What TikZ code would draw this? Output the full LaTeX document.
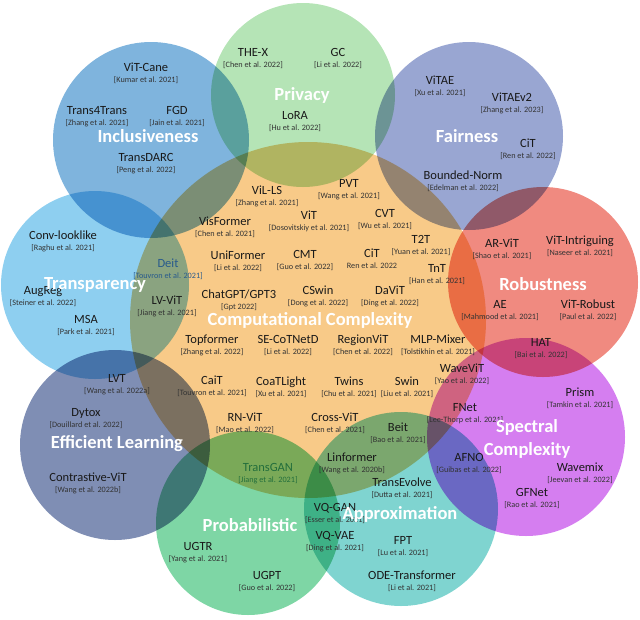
\documentclass[tikz,border=0pt]{standalone}
\usepackage{fontspec}
\setmainfont{Carlito}
\definecolor{cIncl}{RGB}{127,180,221}
\definecolor{cPriv}{RGB}{181,228,182}
\definecolor{cFair}{RGB}{153,166,210}
\definecolor{cTrans}{RGB}{142,207,240}
\definecolor{cComp}{RGB}{248,202,136}
\definecolor{cRob}{RGB}{240,138,128}
\definecolor{cSpec}{RGB}{213,126,240}
\definecolor{cEff}{RGB}{127,142,180}
\definecolor{cProb}{RGB}{126,214,165}
\definecolor{cApprox}{RGB}{127,212,208}
\definecolor{cDeit}{RGB}{40,90,140}
\definecolor{cGan}{RGB}{35,110,60}
\tikzset{
  nm/.style={font=\fontsize{12.5}{14}\selectfont, text=black!90, inner sep=0pt, anchor=base},
  ct/.style={font=\fontsize{8.2}{9}\selectfont, text=black!80, inner sep=0pt, anchor=base},
  cat/.style={font=\bfseries\fontsize{18.5}{20}\selectfont, text=white, inner sep=0pt, align=center},
}
\newcommand\entry[5]{%
  \node[nm] (#1) at (#2,#3+4.3) {#4};
  \node[ct] (#1c) at (#2,#3+15.3) {#5};
}
\begin{document}
\begin{tikzpicture}[x=1pt,y=-1pt]
\useasboundingbox (0,0) rectangle (640,619);
\begin{scope}[blend mode=multiply]
  \fill[cComp]   (308,320) circle[radius=178];
  \fill[cIncl]   (151,140) circle[radius=98];
  \fill[cPriv]   (303,95)  circle[radius=92];
  \fill[cFair]   (469,136) circle[radius=94];
  \fill[cTrans]  (95,285)  circle[radius=94];
  \fill[cRob]    (543,282) circle[radius=95];
  \fill[cSpec]   (526,437) circle[radius=99];
  \fill[cEff]    (115,445) circle[radius=95];
  \fill[cProb]   (248,523) circle[radius=92];
  \fill[cApprox] (401,509) circle[radius=97];
\end{scope}
% Inclusiveness
\entry{vitcane}{146}{67}{ViT-Cane}{[Kumar et al. 2021]}
\entry{t4t}{97}{110}{Trans4Trans}{[Zhang et al. 2021]}
\entry{fgd}{177}{110}{FGD}{[Jain et al. 2021]}
\entry{transdarc}{146}{157}{TransDARC}{[Peng et al. 2022]}
% Privacy
\entry{thex}{253}{52}{THE-X}{[Chen et al. 2022]}
\entry{gc}{338}{52}{GC}{[Li et al. 2022]}
\entry{lora}{295}{115}{LoRA}{[Hu et al. 2022]}
% Fairness
\entry{vitae}{440}{80}{ViTAE}{[Xu et al. 2021]}
\entry{vitaev2}{512}{97}{ViTAEv2}{[Zhang et al. 2023]}
\entry{citf}{528}{143}{CiT}{[Ren et al. 2022]}
\entry{bnorm}{463}{175}{Bounded-Norm}{[Edelman et al. 2022]}
% Computational complexity
\entry{vills}{267}{190}{ViL-LS}{[Zhang et al. 2021]}
\entry{pvt}{349}{183}{PVT}{[Wang et al. 2021]}
\entry{visformer}{225}{221}{VisFormer}{[Chen et al. 2021]}
\entry{vit}{309}{215}{ViT}{[Dosovitskiy et al. 2021]}
\entry{cvt}{385}{213}{CVT}{[Wu et al. 2021]}
\entry{uniformer}{238}{255}{UniFormer}{[Li et al. 2022]}
\entry{cmt}{305}{254}{CMT}{[Guo et al. 2022]}
\entry{citc}{372}{253}{CiT}{Ren et al. 2022}
\entry{t2t}{421}{239}{T2T}{[Yuan et al. 2021]}
\entry{tnt}{437}{268}{TnT}{[Han et al. 2021]}
\entry{chatgpt}{239}{294}{ChatGPT/GPT3}{[Gpt 2022]}
\entry{cswin}{318}{290}{CSwin}{[Dong et al. 2022]}
\entry{davit}{390}{290}{DaViT}{[Ding et al. 2022]}
\entry{topformer}{212}{339}{Topformer}{[Zhang et al. 2022]}
\entry{secot}{288}{339}{SE-CoTNetD}{[Li et al. 2022]}
\entry{regionvit}{363}{339}{RegionViT}{[Chen et al. 2022]}
\entry{mlpmixer}{438}{339}{MLP-Mixer}{[Tolstikhin et al. 2021]}
\entry{cait}{212}{380}{CaiT}{[Touvron et al. 2021]}
\entry{coat}{281}{381}{CoaTLight}{[Xu et al. 2021]}
\entry{twins}{349}{381}{Twins}{[Chu et al. 2021]}
\entry{swin}{407}{381}{Swin}{[Liu et al. 2021]}
\entry{wavevit}{462}{368}{WaveViT}{[Yao et al. 2022]}
\entry{rnvit}{245}{417}{RN-ViT}{[Mao et al. 2022]}
\entry{crossvit}{335}{417}{Cross-ViT}{[Chen et al. 2021]}
\entry{beit}{398}{427}{Beit}{[Bao et al. 2021]}
\entry{linformer}{352}{457}{Linformer}{[Wang et al. 2020b]}
% Transparency
\entry{convlook}{63}{235}{Conv-looklike}{[Raghu et al. 2021]}
\node[nm,text=cDeit] (deit) at (168,263+4.3) {Deit};
\node[ct,text=cDeit] (deitc) at (168,263+15.3) {[Touvron et al. 2021]};
\entry{augreg}{43}{290}{AugReg}{[Steiner et al. 2022]}
\entry{lvvit}{167}{300}{LV-ViT}{[Jiang et al. 2021]}
\entry{msa}{86}{319}{MSA}{[Park et al. 2021]}
% Efficient learning
\entry{lvt}{117}{378}{LVT}{[Wang et al. 2022a]}
\entry{dytox}{86}{412}{Dytox}{[Douillard et al. 2022]}
\entry{contrast}{88}{477}{Contrastive-ViT}{[Wang et al. 2022b]}
% Robustness
\entry{arvit}{502}{243}{AR-ViT}{[Shao et al. 2021]}
\entry{vitintr}{580}{240}{ViT-Intriguing}{[Naseer et al. 2021]}
\entry{ae}{500}{304}{AE}{[Mahmood et al. 2021]}
\entry{vitrob}{588}{304}{ViT-Robust}{[Paul et al. 2022]}
\entry{hat}{541}{342}{HAT}{[Bai et al. 2022]}
% Spectral complexity
\entry{prism}{580}{392}{Prism}{[Tamkin et al. 2021]}
\entry{fnet}{465}{407}{FNet}{[Lee-Thorp et al. 2021]}
\entry{afno}{469}{457}{AFNO}{[Guibas et al. 2022]}
\entry{wavemix}{580}{467}{Wavemix}{[Jeevan et al. 2022]}
\entry{gfnet}{532}{492}{GFNet}{[Rao et al. 2021]}
% Probabilistic
\node[nm,text=cGan] (transgan) at (268,467+4.3) {TransGAN};
\node[ct,text=cGan] (transganc) at (268,467+15.3) {[Jiang et al. 2021]};
\entry{ugtr}{198}{546}{UGTR}{[Yang et al. 2021]}
\entry{ugpt}{267}{575}{UGPT}{[Guo et al. 2022]}
\entry{vqgan}{335}{507}{VQ-GAN}{[Esser et al. 2021]}
\entry{vqvae}{335}{535}{VQ-VAE}{[Ding et al. 2021]}
% Approximation
\entry{transevolve}{402}{482}{TransEvolve}{[Dutta et al. 2021]}
\entry{fpt}{403}{540}{FPT}{[Lu et al. 2021]}
\entry{odet}{412}{575}{ODE-Transformer}{[Li et al. 2021]}
% Category titles
\node[cat] (kincl) at (148,136) {Inclusiveness};
\node[cat] (kpriv) at (302,95) {Privacy};
\node[cat] (kfair) at (467,136) {Fairness};
\node[cat] (ktrans) at (95,285) {Transparency};
\node[cat] (kcomp) at (310,320) {Computational Complexity};
\node[cat] (krob) at (543,284) {Robustness};
\node[cat] (kspec1) at (527,427) {Spectral};
\node[cat] (kspec2) at (527,450) {Complexity};
\node[cat] (keff) at (117,444) {Efficient Learning};
\node[cat] (kprob) at (250,525) {Probabilistic};
\node[cat] (kapprox) at (400,514) {Approximation};
\end{tikzpicture}
\end{document}
